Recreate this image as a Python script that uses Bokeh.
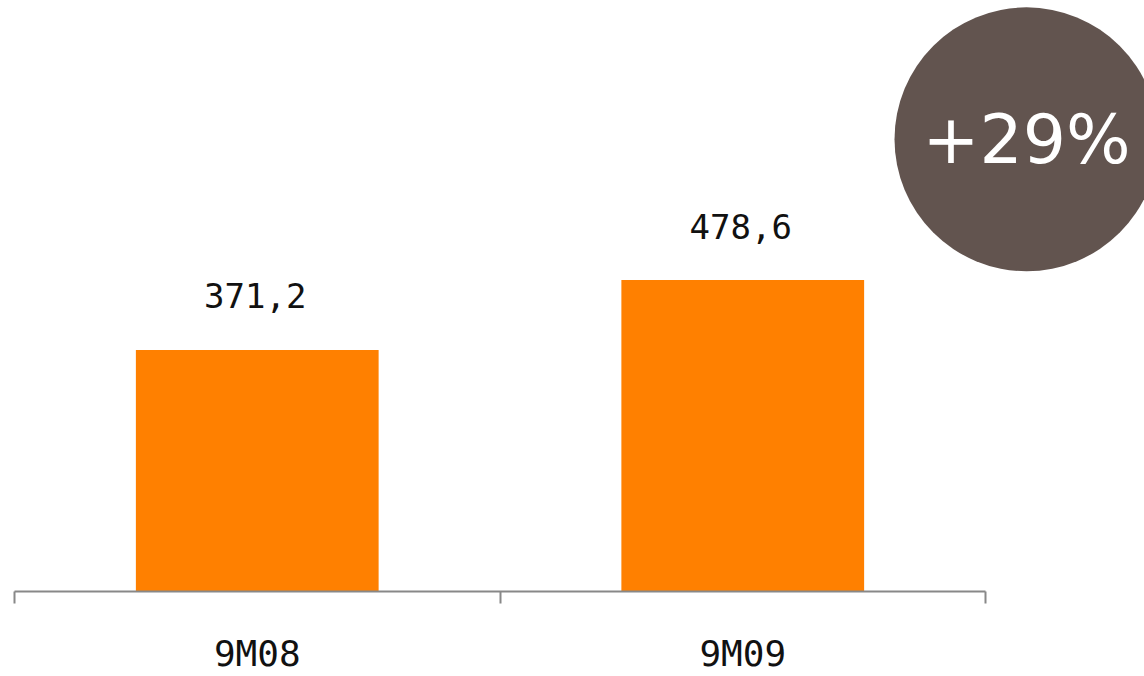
from bokeh.plotting import figure
from bokeh.models import Range1d, FixedTicker, ColumnDataSource
from bokeh.core.properties import value
from bokeh.embed import file_html
from bokeh.resources import INLINE

categories = ["9M08", "9M09"]
values = [371.2, 478.6]

growth = round((values[1] / values[0] - 1) * 100)
badge_text = f"+{growth}%"

xs = [i + 0.5 for i in range(len(categories))]
labels = [f"{v:.1f}".replace(".", ",") for v in values]

src = ColumnDataSource(dict(x=xs, top=values, label=labels))

W, H = 1144, 676
px_per_cat = 485.5
left_px = 14
x_start = -left_px / px_per_cat
x_end = (W - left_px) / px_per_cat
frame_h = 592
px_per_unit = 242 / 371.2
y_end = frame_h / px_per_unit

p = figure(width=W, height=H, output_backend="svg", toolbar_location=None,
           x_range=Range1d(x_start, x_end), y_range=Range1d(0, y_end),
           y_axis_location=None, min_border_left=0, min_border_right=0,
           min_border_top=0, min_border_bottom=H - frame_h)
p.outline_line_color = None
p.grid.visible = False
p.background_fill_color = "white"
p.border_fill_color = "white"

p.vbar(x="x", top="top", width=0.5, bottom=0, source=src,
       fill_color="#FF8000", line_color=None)

p.text(x="x", y="top", text="label", source=src, y_offset=-54, x_offset=-2,
       text_align="center", text_baseline="alphabetic",
       text_font=value("DejaVu Sans Mono"), text_font_size="34px",
       text_color="#111111")

ax = p.xaxis[0]
ax.ticker = FixedTicker(ticks=xs, minor_ticks=[0, 1, 2])
ax.major_label_overrides = {x: c for x, c in zip(xs, categories)}
ax.bounds = (0, len(categories))
ax.axis_line_color = "#888888"
ax.axis_line_width = 2
ax.major_tick_out = 0
ax.major_tick_in = 0
ax.minor_tick_out = 12
ax.minor_tick_in = 0
ax.minor_tick_line_color = "#888888"
ax.minor_tick_line_width = 2
ax.major_label_standoff = 29
ax.major_label_text_font = "DejaVu Sans Mono"
ax.major_label_text_font_size = "36px"
ax.major_label_text_color = "#111111"

# growth badge
badge_x = (1026 - left_px) / px_per_cat
badge_y = (frame_h - 139) / px_per_unit
p.scatter(x=[badge_x], y=[badge_y], size=264, marker="circle",
          fill_color="#62544F", line_color=None)
p.text(x=[badge_x], y=[badge_y], text=[badge_text], text_align="center",
       text_baseline="middle", text_font=value("DejaVu Sans"),
       text_font_size="68px", text_color="white")

open("out.html", "w").write(file_html(p, INLINE))
